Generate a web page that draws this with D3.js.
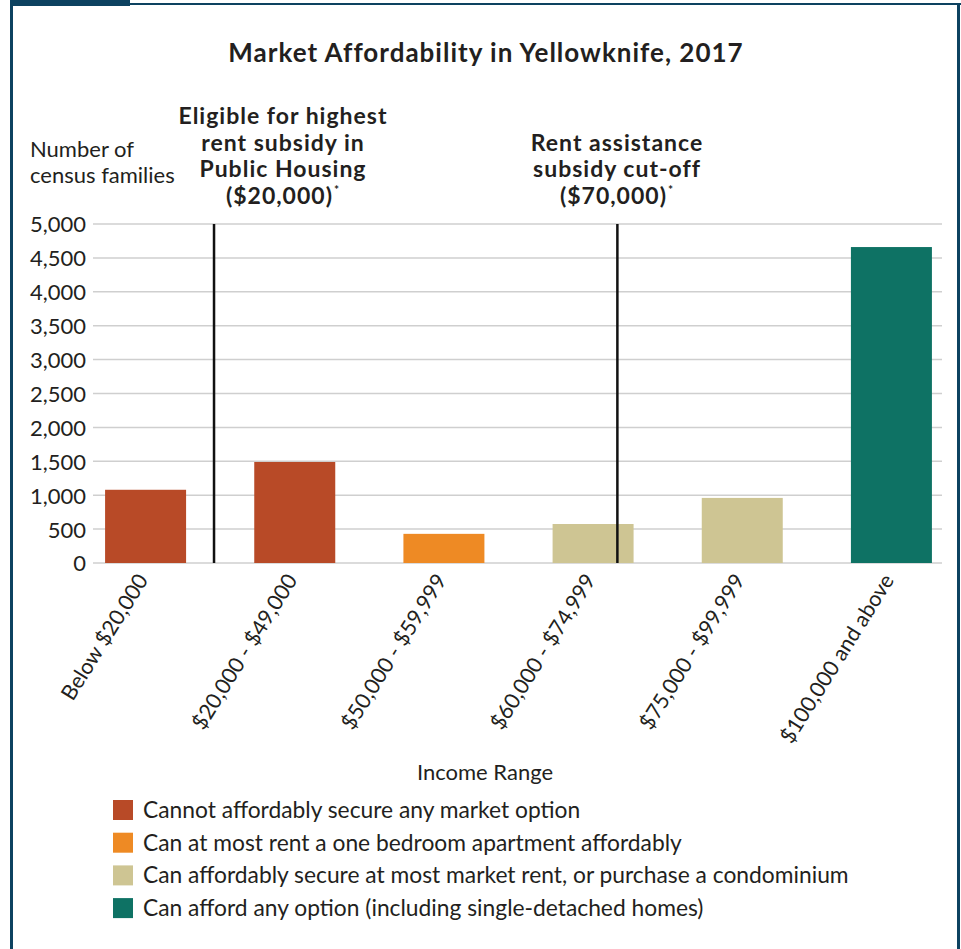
<!DOCTYPE html>
<html>
<head>
<meta charset="utf-8">
<script src="https://cdn.jsdelivr.net/npm/d3@7"></script>
<style>
  body { margin: 0; background: #fff; }
  text { font-family: Lato, "Open Sans", sans-serif; fill: #231f20; }
</style>
</head>
<body>
<div id="chart"></div>
<script>
// data
var categories = ["Below $20,000", "$20,000 - $49,000", "$50,000 - $59,999",
                  "$60,000 - $74,999", "$75,000 - $99,999", "$100,000 and above"];
var families = [1080, 1490, 430, 575, 960, 4660];
var groupOf = [0, 0, 1, 2, 2, 3];
var groupLabels = ["Cannot affordably secure any market option",
                   "Can at most rent a one bedroom apartment affordably",
                   "Can affordably secure at most market rent, or purchase a condominium",
                   "Can afford any option (including single-detached homes)"];
var groupColors = ["#b84a27", "#ee8a24", "#cec593", "#0e7264"];
var yTicks = [0, 500, 1000, 1500, 2000, 2500, 3000, 3500, 4000, 4500, 5000];
// cut-off markers: which bar and where across it (0 = left edge, 1 = right edge, >1 into the gap)
var markers = [
    {cat: 0, at: 1.345, lines: ["Eligible for highest", "rent subsidy in", "Public Housing", "($20,000)"], labelX: 283},
    {cat: 3, at: 0.8, lines: ["Rent assistance", "subsidy cut-off", "($70,000)"], labelX: 617}
];

var svgWidth = 961;
var svgHeight = 949;

var svg = d3.select("#chart")
    .append("svg")
    .attr("width", svgWidth)
    .attr("height", svgHeight);

// frame
var frameColor = "#0d4260";
svg.append("rect").attr("x", 10).attr("y", 0).attr("width", 120).attr("height", 6).attr("fill", frameColor);
svg.append("rect").attr("x", 130).attr("y", 3).attr("width", 831).attr("height", 2).attr("fill", frameColor);
svg.append("rect").attr("x", 10).attr("y", 0).attr("width", 3).attr("height", svgHeight).attr("fill", frameColor);
svg.append("rect").attr("x", 957).attr("y", 3).attr("width", 3).attr("height", svgHeight).attr("fill", frameColor);

// scales
var xScale = d3.scaleBand()
    .domain(categories)
    .range([71, 966])
    .paddingInner(0.457)
    .paddingOuter(0.2285);

var yScale = d3.scaleLinear()
    .domain([0, 5000])
    .range([563, 224]);

// gridlines
svg.append("g")
    .selectAll("line")
    .data(yTicks)
    .enter()
    .append("line")
    .attr("x1", 93)
    .attr("x2", 942)
    .attr("y1", d => yScale(d))
    .attr("y2", d => yScale(d))
    .attr("stroke", "#cfcfcf")
    .attr("stroke-width", 1.5);

// y axis labels
var yAxis = d3.axisLeft(yScale)
    .tickValues(yTicks)
    .tickFormat(d3.format(","))
    .tickSize(0)
    .tickPadding(0);

var yAxisG = svg.append("g")
    .attr("transform", "translate(86, 0)")
    .call(yAxis);
yAxisG.select(".domain").remove();
yAxisG.selectAll("text")
    .attr("font-size", "22px")
    .attr("font-family", "Lato, sans-serif")
    .attr("fill", "#231f20")
    .attr("dy", "0.36em");

// bars
svg.append("g")
    .selectAll("rect")
    .data(families)
    .enter()
    .append("rect")
    .attr("x", (d, i) => xScale(categories[i]))
    .attr("y", d => yScale(d))
    .attr("width", xScale.bandwidth())
    .attr("height", d => yScale(0) - yScale(d))
    .attr("fill", (d, i) => groupColors[groupOf[i]]);

// x axis labels, rotated
var xAxis = d3.axisBottom(xScale).tickSize(0).tickPadding(0);
var xAxisG = svg.append("g")
    .attr("transform", `translate(0, ${yScale(0)})`)
    .call(xAxis);
xAxisG.select(".domain").remove();
xAxisG.selectAll("text")
    .attr("font-size", "21.5px")
    .attr("font-family", "Lato, sans-serif")
    .attr("fill", "#231f20")
    .attr("text-anchor", "end")
    .attr("dy", "0.35em")
    .attr("transform", "translate(-3, 13) rotate(-58)");

// cut-off lines and their notes
markers.forEach(function(m) {
    var mx = xScale(categories[m.cat]) + xScale.bandwidth() * m.at;
    svg.append("line")
        .attr("x1", mx)
        .attr("x2", mx)
        .attr("y1", yScale(5000))
        .attr("y2", yScale(0))
        .attr("stroke", "#111")
        .attr("stroke-width", 2.5);

    var note = svg.append("text")
        .attr("text-anchor", "middle")
        .attr("font-size", "23px")
        .attr("letter-spacing", "1px")
        .attr("font-weight", "bold");
    var firstY = 204 - (m.lines.length - 1) * 26.7;
    m.lines.forEach(function(line, i) {
        note.append("tspan")
            .attr("x", m.labelX)
            .attr("y", firstY + i * 26.7)
            .text(line);
        if (i == m.lines.length - 1) {
            note.append("tspan")
                .attr("font-size", "12px")
                .attr("dy", "-10")
                .attr("dx", "1")
                .text("*");
        }
    });
});

// title
svg.append("text")
    .attr("x", 486)
    .attr("y", 62)
    .attr("text-anchor", "middle")
    .attr("font-size", "26px")
    .attr("letter-spacing", "1px")
    .attr("font-weight", "bold")
    .text("Market Affordability in Yellowknife, 2017");

// y axis title
var yTitle = svg.append("text")
    .attr("font-size", "22px");
yTitle.append("tspan").attr("x", 30).attr("y", 157).text("Number of");
yTitle.append("tspan").attr("x", 30).attr("y", 183).text("census families");

// x axis title
svg.append("text")
    .attr("x", 485)
    .attr("y", 780)
    .attr("text-anchor", "middle")
    .attr("font-size", "22px")
    .text("Income Range");

// legend
var legend = svg.append("g")
    .selectAll("g")
    .data(groupLabels)
    .enter()
    .append("g")
    .attr("transform", (d, i) => `translate(113, ${800 + i * 32.7})`);

legend.append("rect")
    .attr("width", 20)
    .attr("height", 20)
    .attr("fill", (d, i) => groupColors[i]);

legend.append("text")
    .attr("x", 30)
    .attr("y", 18)
    .attr("font-size", "22.8px")
    .text(d => d);
</script>
</body>
</html>
